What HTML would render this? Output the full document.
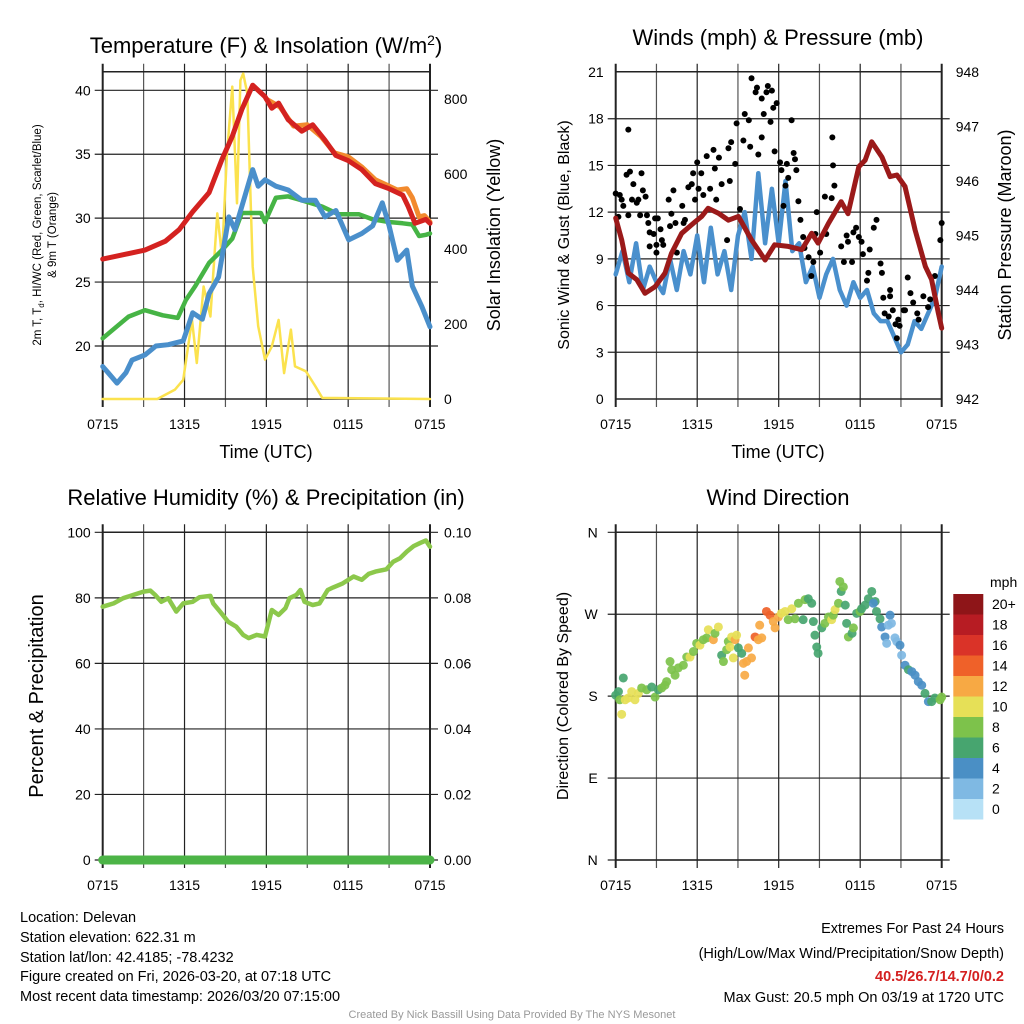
<!DOCTYPE html>
<html><head><meta charset="utf-8">
<style>
body{margin:0;background:#fff;}
svg{display:block;font-family:"Liberation Sans",Arial,sans-serif;}
</style></head>
<body>
<svg id="chart" width="1024" height="1024" viewBox="0 0 1024 1024" xmlns="http://www.w3.org/2000/svg">
<rect width="1024" height="1024" fill="#fff"/>
<text x="266" y="53" font-size="22" text-anchor="middle">Temperature (F) &amp; Insolation (W/m<tspan dy="-8" font-size="14">2</tspan><tspan dy="8">)</tspan></text>
<text x="778" y="45" font-size="22" text-anchor="middle">Winds (mph) &amp; Pressure (mb)</text>
<text x="266" y="505" font-size="22" text-anchor="middle">Relative Humidity (%) &amp; Precipitation (in)</text>
<text x="778" y="505" font-size="22" text-anchor="middle">Wind Direction</text>

<text x="266" y="458" font-size="18" text-anchor="middle">Time (UTC)</text>
<text x="778" y="458" font-size="18" text-anchor="middle">Time (UTC)</text>

<text transform="translate(41,235) rotate(-90)" font-size="11.5" text-anchor="middle">2m T, T<tspan dy="3" font-size="8">d</tspan><tspan dy="-3">, HI/WC (Red, Green, Scarlet/Blue)</tspan></text>
<text transform="translate(56,235) rotate(-90)" font-size="11.5" text-anchor="middle">&amp; 9m T (Orange)</text>
<text transform="translate(500,235) rotate(-90)" font-size="18" text-anchor="middle">Solar Insolation (Yellow)</text>
<text transform="translate(569,235) rotate(-90)" font-size="16" text-anchor="middle">Sonic Wind &amp; Gust (Blue, Black)</text>
<text transform="translate(1011,235) rotate(-90)" font-size="18" text-anchor="middle">Station Pressure (Maroon)</text>
<text transform="translate(43,696) rotate(-90)" font-size="20" text-anchor="middle">Percent &amp; Precipitation</text>
<text transform="translate(568,696) rotate(-90)" font-size="16" text-anchor="middle">Direction (Colored By Speed)</text>

<g font-size="14.5">
<text x="20" y="922">Location: Delevan</text>
<text x="20" y="942">Station elevation: 622.31 m</text>
<text x="20" y="962">Station lat/lon: 42.4185; -78.4232</text>
<text x="20" y="981">Figure created on Fri, 2026-03-20, at 07:18 UTC</text>
<text x="20" y="1001">Most recent data timestamp: 2026/03/20 07:15:00</text>
</g>
<g font-size="14.5" text-anchor="end">
<text x="1004" y="933">Extremes For Past 24 Hours</text>
<text x="1004" y="958">(High/Low/Max Wind/Precipitation/Snow Depth)</text>
<text x="1004" y="981" fill="#d42020" font-weight="bold">40.5/26.7/14.7/0/0.2</text>
<text x="1004" y="1002">Max Gust: 20.5 mph On 03/19 at 1720 UTC</text>
</g>
<text x="512" y="1018" font-size="11" fill="#999" text-anchor="middle">Created By Nick Bassill Using Data Provided By The NYS Mesonet</text>
<g id="layer"></g>
</svg>
<script>
// ---------- data ----------
const xTickLabels = ["0715","1315","1915","0115","0715"];
// temperature panel
const tempTicks = [20,25,30,35,40];
const solarTicks = [0,200,400,600,800];
const tempHours = [0,3.1,4.6,5.6,6.6,7.8,8.75,9.5,10.2,11,11.9,12.4,12.9,13.6,14.6,15.4,16.3,17.1,18,19,20,21,22,22.4,22.9,23.7,24];
const tempValues = [26.8,27.5,28.2,29.1,30.5,32,34.6,36.4,38.5,40.4,39.5,38.6,39,37.7,36.8,37.3,36.1,34.9,34.5,33.8,32.7,32.3,31.8,30.9,29.6,29.9,29.6];
const temp9Hours = [12,13,14,15,16,17,18,19,20,21,21.6,22.3,22.7,23.2,23.6,24];
const temp9Values = [39.3,38.7,37.2,37.3,36.4,35.1,34.8,34.0,33.0,32.5,32.2,32.3,31.6,30.1,30.2,29.7];
const dewHours = [0,1.9,3.1,4.4,5.5,6.1,6.8,7.8,8.75,9.5,10.2,11,11.6,11.9,12.7,13.6,14.6,16.1,17.3,18.8,19.8,21,22,22.7,23.2,23.7,24];
const dewValues = [20.6,22.3,22.8,22.4,22.2,23.6,24.7,26.5,27.5,28.4,30.4,30.4,30.4,29.7,31.6,31.7,31.4,30.9,30.3,30.3,29.9,29.7,29.6,29.5,28.6,28.7,28.8];
const wcHours = [0,0.4,1.05,1.7,2.15,3.1,3.9,4.8,5.9,6.6,7.3,7.8,8.5,9.25,9.7,10.2,11,11.4,11.9,12.7,13.6,14.6,15.6,16.3,17.1,18.04,19,19.8,20.5,21,21.6,22.3,22.7,23.4,24];
const wcValues = [18.4,17.9,17.1,17.9,18.9,19.3,20,20.1,20.4,22.6,22.1,24.1,25.4,30.1,29.1,30.9,33.8,32.5,33,32.5,32.2,31.4,31.4,30.1,30.6,28.3,28.8,29.4,31.2,29.4,26.7,27.5,24.7,23.1,21.5];
const solarHours = [0,4,5.3,5.9,6.55,6.9,7.4,7.9,8.4,8.75,9.1,9.5,9.85,10.1,10.3,10.6,11,11.4,11.9,12.4,12.9,13.3,13.8,14.1,14.9,15.6,16.1,24];
const solarValues = [0,0,25,51,211,96,300,220,495,380,646,833,522,850,868,815,353,194,105,140,211,69,185,87,74,34,3,0];
// wind panel
const windTicks = [0,3,6,9,12,15,18,21];
const pressTicks = [942,943,944,945,946,947,948];
const windValues = [8,9.5,7.5,10,7,8.5,7.5,6.8,9,7,9.5,8,10.5,7.5,11,8,9.5,7,10.5,12,9,14.5,10,13.5,10,14,9.5,10,7.5,8.5,6.5,8,9,7,6,7.5,6.5,7,5.5,5,5,4,3,3.5,5,4.5,5.5,6.5,8.5];
const pressHours = [0,0.44,0.93,1.55,2.16,2.9,3.63,4.1,4.86,5.84,6.33,6.8,7.56,8.3,9.03,10,11,11.7,12.7,13.7,14.43,14.9,15.66,16.6,17.1,17.9,18.36,18.85,19.6,20.2,20.7,21.3,22.04,22.8,23.26,23.75,24];
const pressValues = [945.32,944.92,944.31,944.19,943.94,944.06,944.31,944.67,945.04,945.25,945.35,945.5,945.41,945.28,945.35,944.92,944.55,944.83,944.8,944.74,945.04,944.86,945.22,945.62,945.4,946.26,946.38,946.72,946.44,946.08,946.11,945.9,945.1,944.43,944.19,943.58,943.3];
const gustHours = [0,0.2,0.3,0.44,0.56,0.93,0.8,1.05,0.93,1.2,1.3,1.55,1.67,1.9,2,2.2,1.8,2.3,2.4,2.5,2.8,2.9,3.1,3.3,3.4,3.5,3,2.5,3,3.9,4.1,4.25,4,4.4,4.5,4.9,5,5.1,5.35,5.6,5.7,5.84,6,6.1,6.3,6.45,6.7,6.95,7.2,7.3,7.4,7.6,7.8,8.2,8.3,8.5,8.4,8.8,8.9,9.15,9.4,9.5,9.8,9.9,10,10.3,10.4,10.5,10.75,10.75,10.9,11.1,11.2,11.4,11.5,11.6,11.7,11.85,12.1,12.2,12.35,12.5,12.6,12.7,12.95,13.1,13.2,13.3,13.45,13.6,13.8,13.9,14.2,14.4,14.55,14.7,14.8,15.05,15.4,15.5,15.9,15.95,16,16.1,16.6,16.8,17,17.1,17.4,17.5,17.7,17.9,18.1,18.2,18.5,18.6,18.7,19,19.2,19.5,19.6,19.7,19.8,20.1,20.2,20.2,20.4,20.6,20.8,20.7,20.9,21.2,21.3,21.5,21.7,21.9,22.2,22.3,22.65,23,23.15,23.5,23.9,24];
const gustValues = [13.2,11.7,13.1,12.8,12.4,17.3,14.4,14.6,11.8,12.8,13.8,12.6,12.8,14.5,13.4,13,11.8,11.8,11.3,10.7,10.6,11.6,11.6,10.9,10.2,9.9,9.9,9.8,9.4,12.8,11.9,13.4,11.1,11.3,9.4,12.4,11.3,11.5,13.6,13.8,14.5,12.8,15.2,13.5,14.5,13.1,15.6,13.5,16,14.8,12.8,15.5,13.8,10.2,16.1,16.5,14,15.1,17.7,12.2,16.6,18.3,17.9,16.2,20.6,19.7,20,15.7,16.8,19.3,18.3,19.7,20.1,17.8,19.8,18.7,15.9,19,15.2,14.7,12.4,13.7,15.1,14.2,17.9,15.8,15.4,14.7,12.7,11.5,10.4,9.7,9.1,7.9,8.8,10.6,12,9.4,13,10.6,12.9,16.8,15,13.7,9.8,8.8,10.5,10.1,8.8,10.7,11,10.4,10.1,9.3,7.6,8.1,9.6,11,11.5,8.7,8.1,6.5,5.5,5.3,7,6.6,5.7,4.8,5.1,3.9,4.7,5.7,5.7,7.8,6.8,6.2,5.5,5.1,6.6,5.9,6.4,7.9,10.2,11.3];
// humidity panel
const rhTicks = [0,20,40,60,80,100];
const precipTicks = ["0.00","0.02","0.04","0.06","0.08","0.10"];
const rhHours = [0,0.8,1.5,2.25,3,3.5,3.84,4.3,4.8,5.4,5.9,6.6,7.1,7.9,8.1,8.6,9.2,9.8,10.3,10.7,11.3,11.9,12.4,12.9,13.4,13.7,14.2,14.5,14.8,15.4,15.9,16.5,16.9,17.6,18.4,19,19.5,20,20.8,21.3,21.8,22.3,22.8,23.3,23.7,24];
const rhValues = [77.3,78.3,79.9,80.9,81.9,82.2,80.9,78.8,79.9,75.8,78.3,78.8,80.2,80.6,78.3,75.8,72.7,71.2,68.7,67.7,68.7,68.2,76.3,74.8,76.8,79.9,80.9,82.4,78.8,77.8,78.3,82.4,83.2,84.4,86.5,85.5,87.3,88,88.7,91,92.1,94.1,95.8,96.8,97.5,95.6];
const precipValues = [0,0];
// direction panel
const dirTickLabels = ["N","E","S","W","N"];
const speedLegend = ["20+","18","16","14","12","10","8","6","4","2","0"];
const legendColors = ["#8e1518","#b71c23","#da3328","#ef6129","#f7a944","#e6e057","#7dc24b","#47a56f","#4a8fc5","#7fb9e3","#b7e1f6"];
const dirHours = [0,0.2,0.3,0.56,0.7,0.93,1.18,0.44,1.42,1.67,1.91,2.28,2.65,2.9,3.14,3.39,3.63,3.75,4,4.12,4.37,4.61,4.98,5.23,5.47,5.72,5.96,6.2,6.45,6.7,6.82,7.19,7.31,7.56,7.8,7.93,8.17,8.29,8.42,8.54,8.79,8.9,8.66,9.03,9.28,9.4,9.64,9.77,10,9.5,10.26,10.5,10.75,10.6,11.1,11.36,11.6,11.73,11.98,12.2,12.47,12.7,12.96,13.2,13.45,13.8,13.94,14.18,14.43,14.55,14.67,14.8,14.9,15.17,15.4,15.66,15.9,16.02,16.15,16.4,16.5,16.6,16.76,16.9,17,17.13,17.4,17.5,17.74,17.99,18.1,18.36,18.6,18.85,19.1,18.97,19.2,19.46,19.58,19.83,19.95,20.2,20.3,20.07,20.56,20.69,20.93,21.05,21.3,21.55,21.8,22.04,22.28,22.53,22.77,23.02,23.26,23.5,23.88,24];
const dirValues = [181,185,176,200,176,178,185,160,176,183,189,187,190,179,187,189,192,196,218,209,203,211,214,223,223,229,238,236,242,244,253,242,249,256,225,218,231,240,234,245,242,247,222,233,227,216,218,233,222,203,245,242,244,258,273,269,262,255,267,271,273,264,276,265,282,264,286,287,282,262,247,234,227,255,260,267,264,269,275,282,306,295,300,280,260,245,249,255,271,273,276,280,287,295,284,282,273,265,256,245,238,269,260,258,244,240,236,225,214,209,207,203,196,192,183,174,174,178,176,179];
const dirSpeeds = [6,6,8,6,10,10,10,10,10,10,8,8,6,8,6,8,8,8,8,8,8,8,8,8,10,8,8,10,8,8,10,12,8,10,6,8,8,8,10,10,12,10,10,6,6,12,12,12,12,12,14,12,12,12,14,14,12,12,12,10,10,8,10,8,8,6,8,6,6,6,6,6,6,6,8,8,10,8,10,8,8,6,8,6,6,8,6,8,6,8,6,6,6,6,6,4,6,6,4,4,2,4,2,2,2,2,4,2,4,6,4,4,4,4,6,4,6,6,8,8];

// ---------- helpers ----------
const NS = "http://www.w3.org/2000/svg";
const layer = document.getElementById("layer");
function mk(tag, attrs, parent){
  const e = document.createElementNS(NS, tag);
  for (const k in attrs) e.setAttribute(k, attrs[k]);
  (parent||layer).appendChild(e);
  return e;
}
function linScale(d0,d1,r0,r1){ return v => r0 + (v-d0)*(r1-r0)/(d1-d0); }

function drawFrame(p, name){
  const g = mk("g", {});
  
  
  for (let i=0;i<=8;i++){
    const x = p.x0 + i*(p.x1-p.x0)/8;
    const l = mk("line",{x1:x,x2:x,y1:p.y0-8,y2:p.y1+8,stroke:(i%2?"#555":"#222"),"stroke-width":(i==0||i==8)?2:1.2},g);
    
    
  }
  mk("line",{x1:p.x0,x2:p.x1,y1:p.y0,y2:p.y0,stroke:"#222","stroke-width":1.5},g);
  mk("line",{x1:p.x0,x2:p.x1,y1:p.y1,y2:p.y1,stroke:"#222","stroke-width":1.5},g);
  xTickLabels.forEach((t,i)=>{
    const x = p.x0 + i*(p.x1-p.x0)/4;
    const tx = mk("text",{x:x,y:p.y1+30,"font-size":14,"text-anchor":"middle"},g);
    tx.textContent = t;
    
    
  });
  return g;
}
function hGrid(p, g, y, name){
  const l = mk("line",{x1:p.x0-8,x2:p.x1+8,y1:y,y2:y,stroke:"#222","stroke-width":1.2},g);
  
  
}
function label(g,x,y,txt,anchor,size,name){
  const t = mk("text",{x:x,y:y+5,"font-size":size||14,"text-anchor":anchor},g);
  t.textContent = txt;
  
  
}
function polyline(hours, vals, xs, ys, color, w, name){
  const pts = hours.map((h,i)=> xs(h).toFixed(1)+","+ys(vals[i]).toFixed(1)).join(" ");
  const pl = mk("polyline",{points:pts,fill:"none",stroke:color,"stroke-width":w,"stroke-linejoin":"round","stroke-linecap":"round"});
  
  
}

// ---------- panel 1: temperature ----------
const p1 = {x0:102.7,x1:430,y0:71.7,y1:399};
const x1s = linScale(0,24,p1.x0,p1.x1);
const tY = linScale(40,20,90.3,346);
const sY = linScale(0,800,399,99);
const g1 = drawFrame(p1,"temp");
tempTicks.forEach(t=>{ hGrid(p1,g1,tY(t),"temp"); label(g1,p1.x0-12,tY(t),String(t),"end",14,"temp-y-tick-label"); });
solarTicks.forEach(t=>{ label(g1,p1.x1+14,sY(t),String(t),"start",14,"solar-y-tick-label"); });
polyline(solarHours,solarValues,x1s,sY,"#fbe24e",2.5,"solar-insolation-line");
polyline(dewHours,dewValues,x1s,tY,"#46b445",4.5,"dewpoint-line");
polyline(wcHours,wcValues,x1s,tY,"#4a8fcb",5,"wind-chill-line");
polyline(temp9Hours,temp9Values,x1s,tY,"#f28a2e",5,"temp-9m-line");
polyline(tempHours,tempValues,x1s,tY,"#d42220",5,"temp-2m-line");

// ---------- panel 2: winds ----------
const p2 = {x0:615.7,x1:941.7,y0:71.7,y1:399};
const x2s = linScale(0,24,p2.x0,p2.x1);
const wY = linScale(0,21,399,72);
const pY = linScale(942,948,399,72);
const g2 = drawFrame(p2,"wind");
windTicks.forEach(t=>{ if(t>0 && t<21) hGrid(p2,g2,wY(t),"wind"); label(g2,p2.x0-12,wY(t),String(t),"end",14,"wind-y-tick-label"); });
pressTicks.forEach(t=>{ label(g2,p2.x1+14,pY(t),String(t),"start",14,"pressure-y-tick-label"); });
const windHours = windValues.map((v,i)=> i*0.5);
polyline(windHours,windValues,x2s,wY,"#4a90cd",4.5,"sonic-wind-line");
gustHours.forEach((h,i)=>{
  const c = mk("circle",{cx:x2s(h),cy:wY(gustValues[i]),r:3,fill:"#000"});
  
  
});
polyline(pressHours,pressValues,x2s,pY,"#9b1a1a",5,"pressure-line");

// ---------- panel 3: humidity ----------
const p3 = {x0:102.7,x1:430,y0:532.3,y1:860};
const x3s = linScale(0,24,p3.x0,p3.x1);
const rY = linScale(0,100,860,532.3);
const g3 = drawFrame(p3,"humidity");
rhTicks.forEach((t,i)=>{ hGrid(p3,g3,rY(t),"humidity"); label(g3,p3.x0-12,rY(t),String(t),"end",14,"humidity-y-tick-label"); label(g3,p3.x1+14,rY(t),precipTicks[i],"start",14,"precip-y-tick-label"); });
polyline(rhHours,rhValues,x3s,rY,"#8cc84b",4.5,"humidity-line");
polyline([0,24],precipValues.map(v=>v*1000),x3s,rY,"#4cb447",9,"precipitation-line");

// ---------- panel 4: direction ----------
const p4 = {x0:615.7,x1:941.7,y0:532.3,y1:860};
const x4s = linScale(0,24,p4.x0,p4.x1);
const dY = linScale(0,360,860,532.3);
const g4 = drawFrame(p4,"direction");
dirTickLabels.forEach((t,i)=>{ hGrid(p4,g4,dY(i*90),"direction"); label(g4,p4.x0-18,dY(i*90),t,"end",14,"direction-y-tick-label"); });
dirHours.forEach((h,i)=>{
  const idx = Math.max(0,Math.min(10,10-Math.floor(dirSpeeds[i]/2)));
  const c = mk("circle",{cx:x4s(h),cy:dY(dirValues[i]),r:4.5,fill:legendColors[idx],"fill-opacity":0.92});
  
  
});
// colorbar
const cb = mk("g",{});


const mph = mk("text",{x:990,y:587,"font-size":14},cb);
mph.textContent = "mph";
speedLegend.forEach((s,i)=>{
  const y = 594 + i*20.5;
  const r = mk("rect",{x:953.3,y:y,width:30,height:20.5,fill:legendColors[i]},cb);
  
  
  const t = mk("text",{x:992,y:y+15,"font-size":14},cb);
  t.textContent = s;
  
  
});
</script>
</body></html>
